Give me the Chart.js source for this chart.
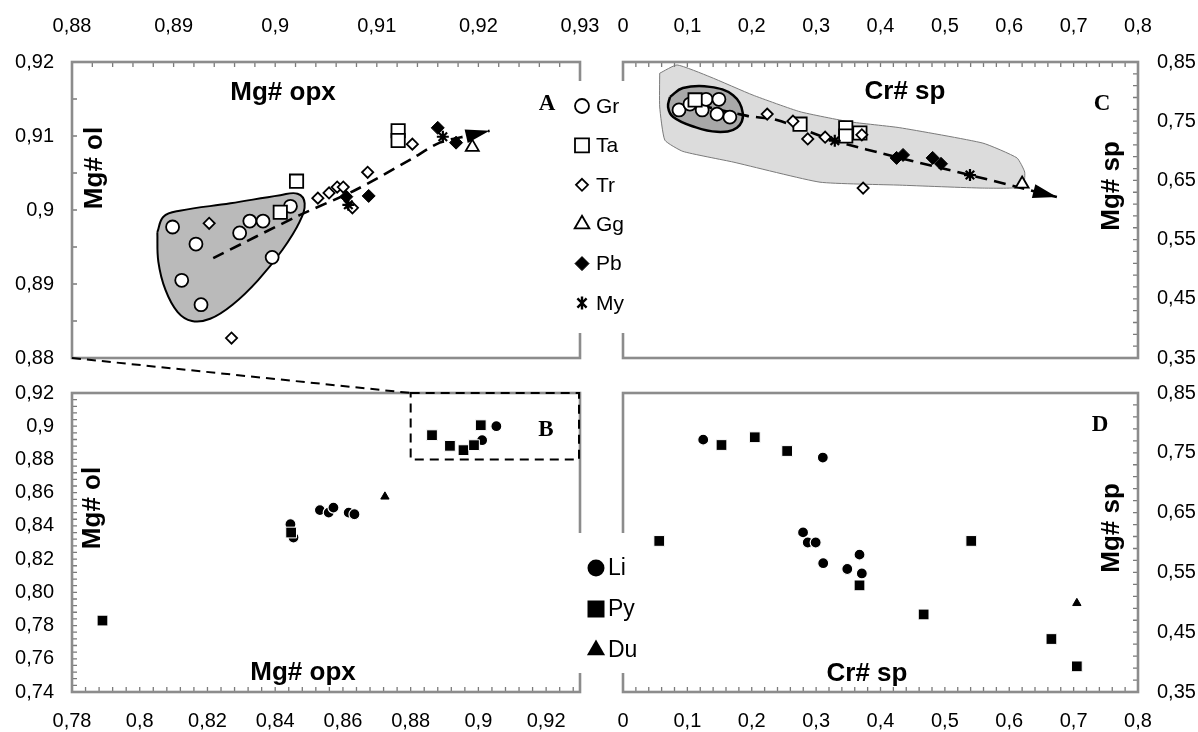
<!DOCTYPE html>
<html>
<head>
<meta charset="utf-8">
<script src="https://cdn.jsdelivr.net/npm/chart.js@4.4.1/dist/chart.umd.min.js"></script>
<style>
  html, body { margin: 0; padding: 0; background: #fff; }
  #wrap { position: relative; width: 1198px; height: 732px; overflow: hidden; background: #fff; }
  #wrap canvas { position: absolute; left: 0; top: 0; }
</style>
</head>
<body>
<div id="wrap">
  <canvas id="chartA" width="1198" height="732"></canvas>
  <canvas id="chartB" width="1198" height="732"></canvas>
  <canvas id="chartC" width="1198" height="732"></canvas>
  <canvas id="chartD" width="1198" height="732"></canvas>
</div>
<script>
// ---- panel A : Mg# opx (x) vs Mg# ol (y) ----
const grOpxA = [0.8899, 0.8922, 0.8908, 0.8927, 0.8965, 0.8975, 0.8988, 0.8997, 0.9015];
const grOlA = [0.8977, 0.8954, 0.8905, 0.8872, 0.8969, 0.8985, 0.8985, 0.8936, 0.9005];
const taOpxA = [0.9021, 0.9005, 0.9121, 0.9121];
const taOlA = [0.9039, 0.8997, 0.9107, 0.9094];
const trOpxA = [0.8935, 0.9042, 0.9053, 0.9061, 0.9067, 0.9076, 0.9091, 0.9135, 0.8957];
const trOlA = [0.8982, 0.9016, 0.9023, 0.9031, 0.9031, 0.9003, 0.9051, 0.9089, 0.8827];
const ggOpxA = [0.9194];
const ggOlA = [0.9085];
const pbOpxA = [0.907, 0.9092, 0.916, 0.9178];
const pbOlA = [0.9018, 0.9019, 0.9111, 0.9091];
const myOpxA = [0.9165, 0.9072];
const myOlA = [0.9099, 0.9007];
const trendOpxA = [0.8939, 0.9024, 0.9079, 0.9133, 0.9162, 0.9192, 0.9211];
const trendOlA = [0.8935, 0.8993, 0.9027, 0.9068, 0.9091, 0.9101, 0.9107];
const fieldOpxA = [0.8884, 0.889, 0.8906, 0.8956, 0.9005, 0.9022, 0.9029, 0.9024, 0.9007, 0.8983, 0.8958, 0.8936, 0.8918, 0.8904, 0.8892, 0.8885, 0.8884];
const fieldOlA = [0.897, 0.8991, 0.8999, 0.9009, 0.902, 0.9022, 0.9009, 0.8984, 0.8946, 0.8905, 0.8872, 0.8853, 0.885, 0.8862, 0.8892, 0.893, 0.897];

// ---- panel C : Cr# sp (x) vs Mg# sp (y) ----
const grCrC = [0.087, 0.104, 0.123, 0.129, 0.149, 0.146, 0.166];
const grMgC = [0.769, 0.779, 0.769, 0.787, 0.787, 0.762, 0.757];
const taCrC = [0.112, 0.275, 0.346, 0.346, 0.368];
const taMgC = [0.786, 0.745, 0.739, 0.725, 0.73];
const trCrC = [0.224, 0.264, 0.287, 0.314, 0.371, 0.373];
const trMgC = [0.762, 0.75, 0.72, 0.723, 0.727, 0.637];
const ggCrC = [0.62];
const ggMgC = [0.644];
const pbCrC = [0.425, 0.435, 0.481, 0.494];
const pbMgC = [0.688, 0.693, 0.688, 0.678];
const myCrC = [0.329, 0.539];
const myMgC = [0.717, 0.659];
const trendCrC = [0.12, 0.193, 0.239, 0.326, 0.43, 0.539, 0.674];
const trendMgC = [0.777, 0.759, 0.752, 0.718, 0.688, 0.659, 0.622];
const outerCrC = [0.057, 0.084, 0.135, 0.202, 0.275, 0.352, 0.43, 0.559, 0.612, 0.624, 0.621, 0.559, 0.43, 0.306, 0.171, 0.093, 0.065, 0.057, 0.057];
const outerMgC = [0.831, 0.845, 0.825, 0.794, 0.766, 0.749, 0.739, 0.713, 0.688, 0.664, 0.639, 0.637, 0.642, 0.647, 0.681, 0.699, 0.718, 0.774, 0.831];
const innerCrC = [0.073, 0.093, 0.135, 0.171, 0.186, 0.177, 0.146, 0.109, 0.078, 0.07, 0.073];
const innerMgC = [0.791, 0.806, 0.808, 0.794, 0.764, 0.739, 0.732, 0.741, 0.757, 0.774, 0.791];

// ---- panel B : Mg# opx vs Mg# ol ----
const liOpxB = [0.8445, 0.8454, 0.8532, 0.8558, 0.8572, 0.8617, 0.8634, 0.9011, 0.9053];
const liOlB = [0.841, 0.833, 0.8495, 0.848, 0.851, 0.848, 0.847, 0.8916, 0.9];
const pyOpxB = [0.789, 0.8447, 0.8863, 0.8916, 0.8956, 0.8987, 0.9007];
const pyOlB = [0.783, 0.836, 0.8946, 0.8882, 0.8856, 0.8886, 0.9006];
const duOpxB = [0.8724];
const duOlB = [0.8576];

// ---- panel D : Cr# sp vs Mg# sp ----
const liCrD = [0.1246, 0.3104, 0.2797, 0.287, 0.2993, 0.311, 0.3484, 0.3674, 0.371];
const liMgD = [0.772, 0.742, 0.6169, 0.6, 0.6, 0.5654, 0.5557, 0.5797, 0.5483];
const pyCrD = [0.153, 0.2047, 0.255, 0.0563, 0.3674, 0.467, 0.541, 0.6655, 0.705];
const pyMgD = [0.763, 0.776, 0.753, 0.6026, 0.5283, 0.4797, 0.6026, 0.4386, 0.3929];
const duCrD = [0.705];
const duMgD = [0.4986];

// ---- ticks ----
const opxTicksA = [0.88, 0.89, 0.9, 0.91, 0.92, 0.93];
const opxLabelsA = ['0,88', '0,89', '0,9', '0,91', '0,92', '0,93'];
const olTicksA = [0.88, 0.89, 0.9, 0.91, 0.92];
const olLabelsA = ['0,88', '0,89', '0,9', '0,91', '0,92'];
const opxTicksB = [0.78, 0.8, 0.82, 0.84, 0.86, 0.88, 0.9, 0.92];
const opxLabelsB = ['0,78', '0,8', '0,82', '0,84', '0,86', '0,88', '0,9', '0,92'];
const olTicksB = [0.74, 0.76, 0.78, 0.8, 0.82, 0.84, 0.86, 0.88, 0.9, 0.92];
const olLabelsB = ['0,74', '0,76', '0,78', '0,80', '0,82', '0,84', '0,86', '0,88', '0,9', '0,92'];
const crTicks = [0, 0.1, 0.2, 0.3, 0.4, 0.5, 0.6, 0.7, 0.8];
const crLabels = ['0', '0,1', '0,2', '0,3', '0,4', '0,5', '0,6', '0,7', '0,8'];
const mgTicks = [0.35, 0.45, 0.55, 0.65, 0.75, 0.85];
const mgLabels = ['0,35', '0,45', '0,55', '0,65', '0,75', '0,85'];

const groupsTop = ['Gr', 'Ta', 'Tr', 'Gg', 'Pb', 'My'];
const groupsBottom = ['Li', 'Py', 'Du'];

const SANS = '"Liberation Sans", Arial, sans-serif';
const SERIF = '"Liberation Serif", "Times New Roman", serif';

const pts = (xs, ys) => xs.map((x, i) => ({ x, y: ys[i] }));

// marker looks
const openCircle = { pointStyle: 'circle', pointRadius: 6.5, pointBackgroundColor: '#fff', pointBorderColor: '#000', pointBorderWidth: 1.8 };
const openSquare = { pointStyle: 'rect', pointRadius: 9.4, pointBackgroundColor: '#fff', pointBorderColor: '#000', pointBorderWidth: 1.8 };
const openDiamond = { pointStyle: 'rectRot', pointRadius: 5.6, pointBackgroundColor: '#fff', pointBorderColor: '#000', pointBorderWidth: 1.8 };
const openTriangle = { pointStyle: 'triangle', pointRadius: 7.5, pointBackgroundColor: '#fff', pointBorderColor: '#000', pointBorderWidth: 1.8 };
const fullDiamond = { pointStyle: 'rectRot', pointRadius: 6.5, pointBackgroundColor: '#000', pointBorderColor: '#000', pointBorderWidth: 1 };
const starMark = { pointStyle: 'star', pointRadius: 6, pointBackgroundColor: '#000', pointBorderColor: '#000', pointBorderWidth: 2.2 };
const dotMark = { pointStyle: 'circle', pointRadius: 5.5, pointBackgroundColor: '#000', pointBorderColor: '#fff', pointBorderWidth: 1.2 };
const squareMark = { pointStyle: 'rect', pointRadius: 7.6, pointBackgroundColor: '#000', pointBorderColor: '#fff', pointBorderWidth: 1 };
const smallTriangle = { pointStyle: 'triangle', pointRadius: 4.8, pointBackgroundColor: '#000', pointBorderColor: '#000', pointBorderWidth: 1 };

function marks(label, xs, ys, look, order) {
  return Object.assign({ type: 'scatter', label, data: pts(xs, ys), showLine: false, order }, look);
}
function trend(xs, ys) {
  return {
    type: 'line', data: pts(xs, ys), borderColor: '#000', borderWidth: 2.6, borderDash: [12, 7],
    pointRadius: 0, tension: 0.3, fill: false, order: 5, arrowHead: true,
  };
}
function field(xs, ys, fillColor, lineColor, lineWidth, tension, order) {
  return {
    type: 'line', data: pts(xs, ys), fill: 'shape', backgroundColor: fillColor, borderColor: lineColor,
    borderWidth: lineWidth, pointRadius: 0, tension, order,
  };
}

// the scale box has to hold the labels, chart.js clips them to it
function makeScale(position, min, max, values, labels, size, pad) {
  const horizontal = position === 'top' || position === 'bottom';
  return {
    type: 'linear', position, min, max,
    grid: { display: false, drawTicks: false, tickLength: 0 },
    border: { display: false },
    afterBuildTicks: (s) => { s.ticks = values.map((v) => ({ value: v })); },
    afterFit: (s) => { if (horizontal) s.height = size; else s.width = size; },
    ticks: {
      autoSkip: false, maxRotation: 0, minRotation: 0, padding: pad, color: '#000',
      font: { family: SANS, size: 20 },
      callback: (v, i) => labels[i],
    },
  };
}

// box + small inward tick marks
function framePlugin(xSide, ySide, xStep, yStep) {
  return {
    id: 'frame',
    afterDatasetsDraw(chart) {
      const { ctx, chartArea: a } = chart;
      const xs = chart.scales.x, ys = chart.scales.y;
      ctx.save();
      ctx.strokeStyle = '#7a7a7a';
      ctx.lineWidth = 1.3;
      ctx.beginPath();
      const nx = Math.round((xs.max - xs.min) / xStep);
      const ey = xSide === 'top' ? a.top : a.bottom;
      const dy = xSide === 'top' ? 5 : -5;
      for (let i = 1; i < nx; i++) {
        const px = xs.getPixelForValue(xs.min + i * xStep);
        ctx.moveTo(px, ey); ctx.lineTo(px, ey + dy);
      }
      const ny = Math.round((ys.max - ys.min) / yStep);
      const ex = ySide === 'left' ? a.left : a.right;
      const dx = ySide === 'left' ? 5 : -5;
      for (let i = 1; i < ny; i++) {
        const py = ys.getPixelForValue(ys.min + i * yStep);
        ctx.moveTo(ex, py); ctx.lineTo(ex + dx, py);
      }
      ctx.stroke();
      ctx.strokeStyle = '#8c8c8c';
      ctx.lineWidth = 2.6;
      ctx.strokeRect(a.left, a.top, a.width, a.height);
      ctx.restore();
    },
  };
}

// filled arrow head at the end of each trend line
const arrowPlugin = {
  id: 'arrows',
  afterDatasetsDraw(chart) {
    const ctx = chart.ctx;
    chart.data.datasets.forEach((ds, i) => {
      if (!ds.arrowHead) return;
      const p = chart.getDatasetMeta(i).data;
      const a = p[p.length - 2], b = p[p.length - 1];
      const ang = Math.atan2(b.y - a.y, b.x - a.x);
      const len = 24, half = 7;
      const bx = b.x - Math.cos(ang) * len, by = b.y - Math.sin(ang) * len;
      ctx.save();
      ctx.fillStyle = '#000';
      ctx.beginPath();
      ctx.moveTo(b.x, b.y);
      ctx.lineTo(bx - Math.sin(ang) * half, by + Math.cos(ang) * half);
      ctx.lineTo(bx + Math.sin(ang) * half, by - Math.cos(ang) * half);
      ctx.closePath();
      ctx.fill();
      ctx.restore();
    });
  },
};

function notesPlugin(items) {
  return {
    id: 'notes',
    afterDraw(chart) {
      const ctx = chart.ctx;
      ctx.save();
      ctx.fillStyle = '#000';
      items.forEach((n) => {
        ctx.font = n.font;
        ctx.save();
        ctx.translate(n.x, n.y);
        if (n.rotate) {
          ctx.rotate(-Math.PI / 2);
          ctx.textAlign = 'center';
          ctx.textBaseline = 'middle';
        } else {
          ctx.textAlign = 'center';
          ctx.textBaseline = 'alphabetic';
        }
        ctx.fillText(n.text, 0, 0);
        ctx.restore();
      });
      ctx.restore();
    },
  };
}

const TITLE = 'bold 26px ' + SANS;
const LETTER = 'bold 23px ' + SERIF;

function buildChart(id, cfg) {
  return new Chart(document.getElementById(id), {
    type: 'scatter',
    data: { datasets: cfg.datasets },
    options: {
      responsive: false, maintainAspectRatio: false, animation: false, events: [], devicePixelRatio: 1,
      layout: { padding: cfg.padding },
      plugins: { legend: { display: false }, tooltip: { enabled: false } },
      scales: { x: cfg.x, y: cfg.y },
    },
    plugins: cfg.plugins,
  });
}

const chartA = buildChart('chartA', {
  padding: { left: 0, right: 618, top: 0, bottom: 374 },
  x: makeScale('top', 0.88, 0.93, opxTicksA, opxLabelsA, 62, 24),
  y: makeScale('left', 0.88, 0.92, olTicksA, olLabelsA, 72, 18),
  datasets: [
    field(fieldOpxA, fieldOlA, '#bababa', '#000', 2, 0.4, 10),
    trend(trendOpxA, trendOlA),
    marks('Gr', grOpxA, grOlA, openCircle, 4),
    marks('Ta', taOpxA, taOlA, openSquare, 3),
    marks('Tr', trOpxA, trOlA, openDiamond, 2),
    marks('Gg', ggOpxA, ggOlA, openTriangle, 1),
    marks('Pb', pbOpxA, pbOlA, fullDiamond, 1),
    marks('My', myOpxA, myOlA, starMark, 0),
  ],
  plugins: [
    framePlugin('top', 'left', 0.002, 0.005),
    arrowPlugin,
    notesPlugin([
      { text: 'Mg# opx', x: 283, y: 100, font: TITLE },
      { text: 'A', x: 547, y: 110, font: LETTER },
      { text: 'Mg# ol', x: 95, y: 168, font: TITLE, rotate: true },
    ]),
  ],
});

// dashed box in B = range of panel A, joined to A's corner
const zoomLinkPlugin = {
  id: 'zoomLink',
  afterDraw(chart) {
    const { ctx } = chart;
    const xs = chart.scales.x, ys = chart.scales.y;
    const ax = chartA.scales.x, ay = chartA.scales.y;
    const x0 = xs.getPixelForValue(ax.min), x1 = xs.getPixelForValue(ax.max);
    const y0 = ys.getPixelForValue(ay.min), y1 = ys.getPixelForValue(ay.max);
    ctx.save();
    ctx.strokeStyle = '#000';
    ctx.lineWidth = 2;
    ctx.setLineDash([9, 6]);
    ctx.strokeRect(x0, y1, x1 - x0 - 1, y0 - y1);
    ctx.beginPath();
    ctx.moveTo(chartA.chartArea.left, chartA.chartArea.bottom);
    ctx.lineTo(x0, y1);
    ctx.stroke();
    ctx.restore();
  },
};

const chartB = buildChart('chartB', {
  padding: { left: 0, right: 618, top: 393, bottom: 0 },
  x: makeScale('bottom', 0.78, 0.93, opxTicksB, opxLabelsB, 40, 17),
  y: makeScale('left', 0.74, 0.92, olTicksB, olLabelsB, 72, 18),
  datasets: [
    marks('Li', liOpxB, liOlB, dotMark, 2),
    marks('Py', pyOpxB, pyOlB, squareMark, 1),
    marks('Du', duOpxB, duOlB, smallTriangle, 0),
  ],
  plugins: [
    framePlugin('bottom', 'left', 0.004, 0.004),
    zoomLinkPlugin,
    notesPlugin([
      { text: 'Mg# opx', x: 303, y: 680, font: TITLE },
      { text: 'B', x: 546, y: 436, font: LETTER },
      { text: 'Mg# ol', x: 93, y: 508, font: TITLE, rotate: true },
    ]),
  ],
});

const chartC = buildChart('chartC', {
  padding: { left: 623, right: 0, top: 0, bottom: 374 },
  x: makeScale('top', 0, 0.8, crTicks, crLabels, 62, 24),
  y: makeScale('right', 0.35, 0.85, mgTicks, mgLabels, 60, 19),
  datasets: [
    field(outerCrC, outerMgC, '#dcdcdc', '#7a7a7a', 1, 0.15, 12),
    field(innerCrC, innerMgC, '#a8a8a8', '#000', 2.5, 0.4, 11),
    trend(trendCrC, trendMgC),
    marks('Gr', grCrC, grMgC, openCircle, 4),
    marks('Ta', taCrC, taMgC, openSquare, 3),
    marks('Tr', trCrC, trMgC, openDiamond, 2),
    marks('Gg', ggCrC, ggMgC, openTriangle, 1),
    marks('Pb', pbCrC, pbMgC, fullDiamond, 1),
    marks('My', myCrC, myMgC, starMark, 0),
  ],
  plugins: [
    framePlugin('top', 'right', 0.02, 0.02),
    arrowPlugin,
    notesPlugin([
      { text: 'Cr# sp', x: 905, y: 99, font: TITLE },
      { text: 'C', x: 1102, y: 110, font: LETTER },
      { text: 'Mg# sp', x: 1112, y: 186, font: TITLE, rotate: true },
    ]),
  ],
});

function drawMarker(ctx, style, x, y, r, fill, lw) {
  ctx.beginPath();
  if (style === 'circle') {
    ctx.arc(x, y, r, 0, Math.PI * 2);
  } else if (style === 'rect') {
    ctx.rect(x - r, y - r, 2 * r, 2 * r);
  } else if (style === 'rectRot') {
    ctx.moveTo(x, y - r); ctx.lineTo(x + r, y); ctx.lineTo(x, y + r); ctx.lineTo(x - r, y); ctx.closePath();
  } else if (style === 'triangle') {
    const h = r * Math.sqrt(3) / 2;
    ctx.moveTo(x, y - r); ctx.lineTo(x + h, y + r / 2); ctx.lineTo(x - h, y + r / 2); ctx.closePath();
  } else if (style === 'star') {
    const d = r * Math.SQRT1_2;
    ctx.moveTo(x - d, y - d); ctx.lineTo(x + d, y + d);
    ctx.moveTo(x + d, y - d); ctx.lineTo(x - d, y + d);
    ctx.moveTo(x, y - r); ctx.lineTo(x, y + r);
  }
  if (style !== 'star') {
    ctx.fillStyle = fill;
    ctx.fill();
  }
  if (lw) {
    ctx.lineWidth = lw;
    ctx.strokeStyle = '#000';
    ctx.stroke();
  }
}

// legends between the panels (drawn on the top-most canvas)
const legendPlugin = {
  id: 'sideLegends',
  afterDraw(chart) {
    const ctx = chart.ctx;
    ctx.save();
    ctx.fillStyle = '#fff';
    ctx.fillRect(575, 81, 53, 252);
    ctx.fillRect(575, 533, 53, 140);
    const topLooks = [
      ['circle', 7, '#fff', 1.8], ['rect', 7, '#fff', 1.8], ['rectRot', 6, '#fff', 1.8],
      ['triangle', 8.5, '#fff', 1.8], ['rectRot', 7, '#000', 1], ['star', 6.5, '#000', 2.4],
    ];
    groupsTop.forEach((name, i) => {
      const y = 106 + i * 39.4;
      const lk = topLooks[i];
      drawMarker(ctx, lk[0], 582, y, lk[1], lk[2], lk[3]);
      ctx.fillStyle = '#000';
      ctx.font = '21px ' + SANS;
      ctx.textAlign = 'left';
      ctx.textBaseline = 'middle';
      ctx.fillText(name, 596, y + 1);
    });
    const bottomLooks = [['circle', 8.5], ['rect', 8.5], ['triangle', 10.5]];
    groupsBottom.forEach((name, i) => {
      const y = 568 + i * 41;
      const lk = bottomLooks[i];
      drawMarker(ctx, lk[0], 596, y, lk[1], '#000', 0);
      ctx.fillStyle = '#000';
      ctx.font = '23px ' + SANS;
      ctx.textAlign = 'left';
      ctx.textBaseline = 'middle';
      ctx.fillText(name, 608, y + 1);
    });
    ctx.restore();
  },
};

const chartD = buildChart('chartD', {
  padding: { left: 623, right: 0, top: 393, bottom: 0 },
  x: makeScale('bottom', 0, 0.8, crTicks, crLabels, 40, 17),
  y: makeScale('right', 0.35, 0.85, mgTicks, mgLabels, 60, 19),
  datasets: [
    marks('Li', liCrD, liMgD, dotMark, 2),
    marks('Py', pyCrD, pyMgD, squareMark, 1),
    marks('Du', duCrD, duMgD, smallTriangle, 0),
  ],
  plugins: [
    framePlugin('bottom', 'right', 0.02, 0.02),
    notesPlugin([
      { text: 'Cr# sp', x: 867, y: 681, font: TITLE },
      { text: 'D', x: 1100, y: 431, font: LETTER },
      { text: 'Mg# sp', x: 1112, y: 528, font: TITLE, rotate: true },
    ]),
    legendPlugin,
  ],
});
</script>
</body>
</html>
